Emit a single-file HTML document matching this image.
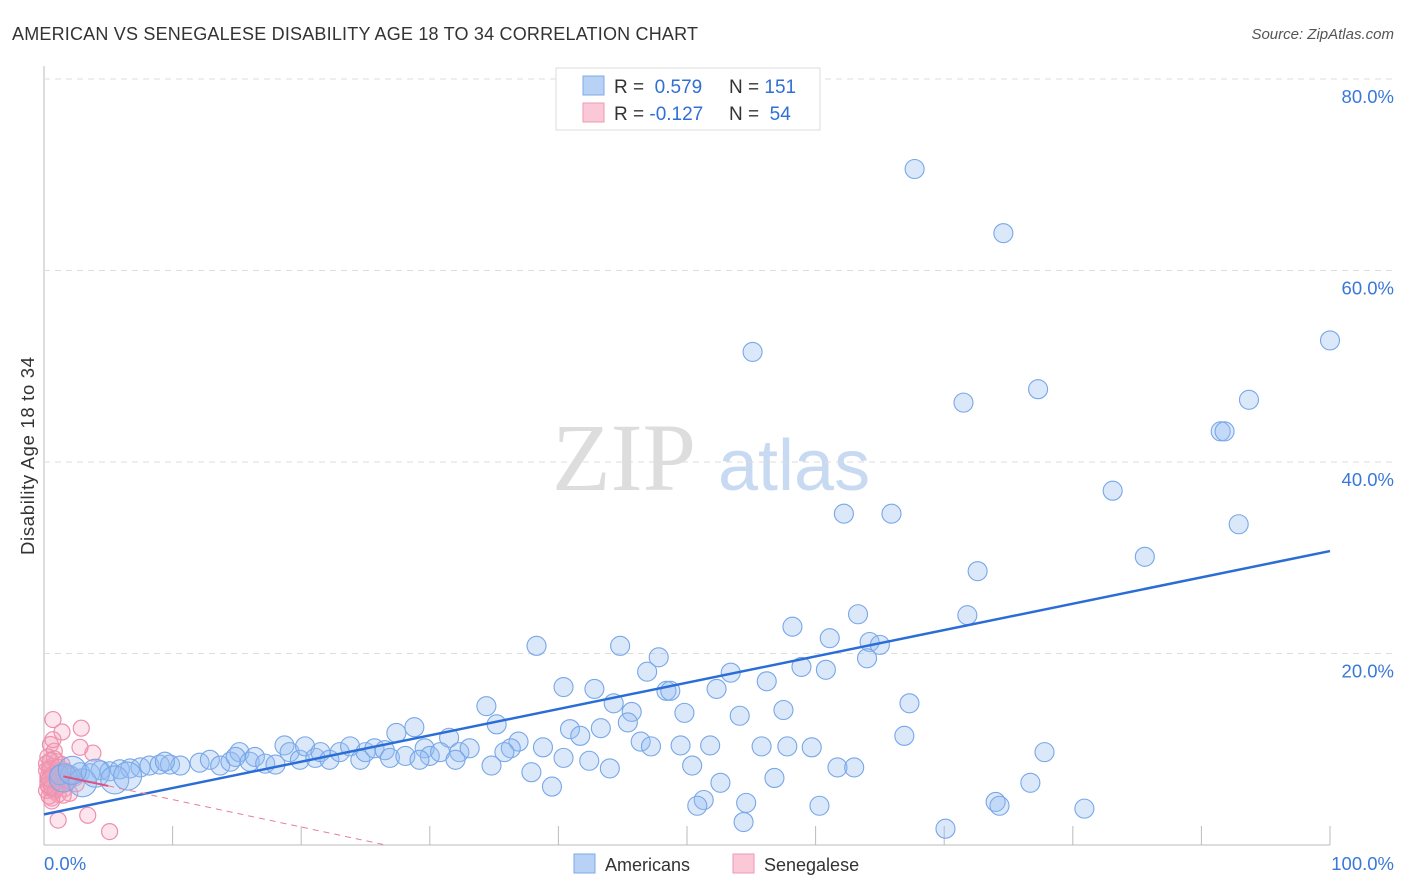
<!DOCTYPE html>
<html><head><meta charset="utf-8"><style>
body{margin:0;background:#fff;font-family:"Liberation Sans",sans-serif;}
svg{display:block}
</style></head><body>
<svg id="chart" width="1406" height="892">
<text x="12" y="40" font-size="18" fill="#333" textLength="686">AMERICAN VS SENEGALESE DISABILITY AGE 18 TO 34 CORRELATION CHART</text>
<text x="1394" y="39" font-size="15" fill="#555" font-style="italic" text-anchor="end">Source: ZipAtlas.com</text>
<text x="34" y="456" font-size="18.5" fill="#333" text-anchor="middle" textLength="198" transform="rotate(-90 34 456)">Disability Age 18 to 34</text>
<g><text x="552" y="490" font-size="96" fill="#ddd" font-family="Liberation Serif,serif">ZIP</text><text x="718" y="490" font-size="72" fill="#c8daf2">atlas</text></g>
<g id="grid"></g><g id="pink"></g><g id="blue"></g><g id="lines"></g>
<g>
<rect x="556" y="68" width="264" height="62" fill="#fff" stroke="#ddd"/>
<rect x="583" y="76" width="21" height="19" fill="#b8d2f5" stroke="#7eaae8"/>
<rect x="583" y="103" width="21" height="19" fill="#fac8d6" stroke="#ee9ab4"/>
<text x="614" y="93" font-size="19" fill="#333">R = <tspan fill="#2f6fd6">&#160;0.579</tspan><tspan x="729">N = </tspan><tspan fill="#2f6fd6">151</tspan></text>
<text x="614" y="120" font-size="19" fill="#333">R = <tspan fill="#2f6fd6">-0.127</tspan><tspan x="729">N = </tspan><tspan fill="#2f6fd6">&#160;54</tspan></text>
</g>
<g>
<rect x="574" y="854" width="21" height="19" fill="#b8d2f5" stroke="#7eaae8"/>
<text x="605" y="871" font-size="18" fill="#333">Americans</text>
<rect x="733" y="854" width="21" height="19" fill="#fac8d6" stroke="#ee9ab4"/>
<text x="764" y="871" font-size="18" fill="#333">Senegalese</text>
</g>
</svg>
<script>
const yTicks=[20,40,60,80];
const yTickLabels=["20.0%","40.0%","60.0%","80.0%"];
const xTicks=[10,20,30,40,50,60,70,80,90,100];
const blueX=[67.7,74.6,55.1,100,71.5,77.3,93.7,91.5,91.8,83.1,62.2,65.9,92.9,85.6,72.6,63.3,71.8,58.2,61.1,64.2,65.0,64.0,38.3,44.8,47.8,58.9,60.8,53.4,46.9,40.4,42.8,48.4,48.7,52.3,56.2,44.3,34.4,45.7,49.8,67.3,57.5,54.1,45.4,35.2,28.8,40.9,43.3,27.4,66.9,41.7,31.5,36.9,46.4,49.5,51.8,55.8,57.8,59.7,47.2,38.8,77.8,36.3,35.8,40.4,42.4,34.8,50.4,61.7,63.0,44.0,37.9,56.8,52.6,76.7,39.5,51.3,50.8,54.6,74.0,74.3,60.3,80.9,54.4,70.1,
1.2,2.0,2.8,3.6,4.4,5.1,5.9,6.7,7.5,8.2,9.0,9.8,10.6,9.4,12.1,12.9,13.7,14.5,15.2,14.9,16.0,16.4,17.2,18.0,18.7,19.1,19.9,20.3,21.1,21.5,22.2,23.0,23.8,24.6,25.0,25.7,26.5,26.9,28.1,29.6,30.0,30.8,32.3,33.1,32.0,29.2,1.5,3.0,4.0,2.2,5.5,6.5];
const blueY=[70.6,63.9,51.5,52.7,46.2,47.6,46.5,43.2,43.2,37.0,34.6,34.6,33.5,30.1,28.6,24.1,24.0,22.8,21.6,21.2,20.9,19.5,20.8,20.8,19.6,18.6,18.3,18.0,18.1,16.5,16.3,16.1,16.1,16.3,17.1,14.8,14.5,13.9,13.8,14.8,14.1,13.5,12.8,12.6,12.3,12.1,12.2,11.7,11.4,11.4,11.2,10.8,10.8,10.4,10.4,10.3,10.3,10.2,10.3,10.2,9.7,10.1,9.7,9.1,8.8,8.3,8.3,8.1,8.1,8.0,7.6,7.0,6.5,6.5,6.1,4.7,4.1,4.4,4.5,4.1,4.1,3.8,2.4,1.7,
7.3,7.3,7.6,7.5,7.8,7.7,7.9,8.0,8.1,8.3,8.4,8.4,8.3,8.7,8.6,8.9,8.3,8.7,9.7,9.2,8.7,9.2,8.5,8.4,10.4,9.7,8.9,10.3,9.1,9.7,8.9,9.7,10.3,8.9,9.7,10.1,9.9,9.1,9.3,10.1,9.3,9.7,9.7,10.1,8.9,8.9,7.0,6.5,7.5,7.8,6.8,7.2];
const pinkX=[0.7,2.9,1.4,3.4,1.1,5.1,3.8,2.8,0.5,0.8,1.0,0.3,0.6,1.2,1.5,0.4,0.9,0.2,1.8,2.2,0.5,0.7,1.3,0.3,1.6,0.8,2.5,0.4,1.1,0.6,0.2,1.9,0.9,0.5,1.4,0.3,2.0,0.7,1.0,0.4,0.6,1.2,0.3,0.8,1.7,0.5,0.9,0.2,1.1,0.6,2.4,0.4,1.5,0.7];
const pinkY=[13.1,12.2,11.8,3.1,2.6,1.4,9.6,10.2,10.5,9.8,8.7,9.2,8.2,7.8,7.5,7.9,7.2,8.5,6.8,7.3,6.5,6.9,6.2,7.1,5.9,5.6,6.4,6.0,5.3,4.9,5.7,6.6,7.6,8.0,8.4,6.7,5.4,7.4,6.1,5.1,4.6,7.0,6.3,9.0,7.7,8.8,5.8,7.8,8.1,6.0,7.0,6.9,5.2,11.0];
const X=v=>44+v*12.86, Y=v=>845-v*9.575;
const NS="http://www.w3.org/2000/svg";
function mk(p,t,a){const e=document.createElementNS(NS,t);for(const k in a)e.setAttribute(k,a[k]);p.appendChild(e);return e;}
const grid=document.getElementById('grid');
mk(grid,'line',{x1:44,y1:66,x2:44,y2:845,stroke:'#bbb'});
mk(grid,'line',{x1:44,y1:845,x2:1330,y2:845,stroke:'#bbb'});
yTicks.forEach((t,i)=>{
 const g=mk(grid,'line',{x1:44,y1:Y(t),x2:1394,y2:Y(t),stroke:'#ddd','stroke-dasharray':'6,5'});
 
 
 const l=mk(grid,'text',{x:1394,y:Y(t)+24,'font-size':18.5,fill:'#3a78d8','text-anchor':'end'});
 l.textContent=yTickLabels[i];
 
 
});
xTicks.forEach(t=>{
 const k=mk(grid,'line',{x1:X(t),y1:826,x2:X(t),y2:845,stroke:'#bbb'});
 
 
});
let t0=mk(grid,'text',{x:44,y:870,'font-size':18.5,fill:'#3a78d8'});t0.textContent='0.0%';


let t1=mk(grid,'text',{x:1394,y:870,'font-size':18.5,fill:'#3a78d8','text-anchor':'end'});t1.textContent='100.0%';


const pg=document.getElementById('pink');
pinkX.forEach((v,i)=>{const c=mk(pg,'circle',{cx:X(v),cy:Y(pinkY[i]),r:8,fill:'rgba(245,160,188,0.28)',stroke:'#ee8fae','stroke-width':1.2});
 
 });
const bg=document.getElementById('blue');
blueX.forEach((v,i)=>{const r=(i>=blueY.length-6)?14:9.5;const c=mk(bg,'circle',{cx:X(v),cy:Y(blueY[i]),r:r,fill:'rgba(150,190,240,0.35)',stroke:'#78a7e8','stroke-width':1.1});
 
 });
const lg=document.getElementById('lines');
const bA=3.2,bB=0.275,pA=7.6,pB=-0.286;
let bl=mk(lg,'line',{x1:X(0),y1:Y(bA),x2:X(100),y2:Y(bA+bB*100),stroke:'#2a6dd6','stroke-width':2.5});


let ps=mk(lg,'line',{x1:X(1.5),y1:Y(pA+pB*1.5),x2:X(5),y2:Y(pA+pB*5),stroke:'#e0507e','stroke-width':2});


let pd=mk(lg,'line',{x1:X(5),y1:Y(pA+pB*5),x2:X(-pA/pB),y2:Y(0),stroke:'#e87fa0','stroke-width':1,'stroke-dasharray':'6,5'});


</script>
</body></html>
